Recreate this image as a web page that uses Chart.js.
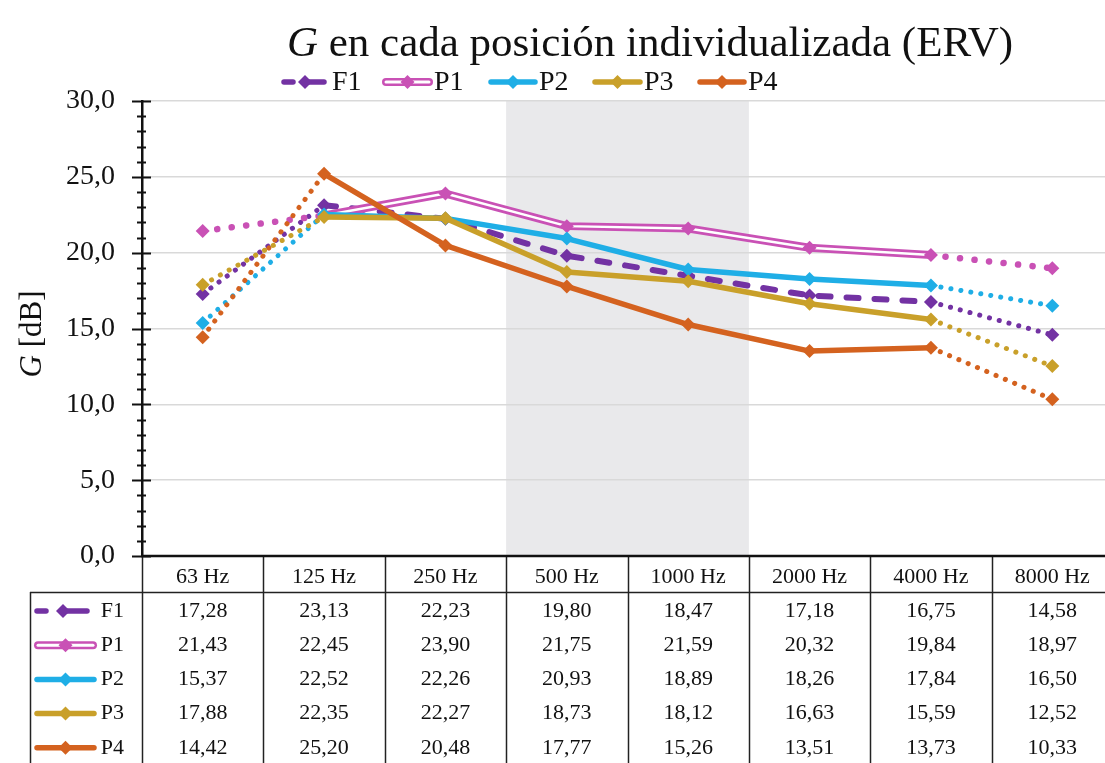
<!DOCTYPE html>
<html>
<head>
<meta charset="utf-8">
<script src="https://cdn.jsdelivr.net/npm/chart.js@4.4.1/dist/chart.umd.min.js"></script>
<style>
  html, body { margin: 0; padding: 0; background: #fff; overflow: hidden; }
  #wrap { width: 1105px; height: 763px; overflow: hidden; }
  canvas { display: block; }
</style>
</head>
<body>
<div id="wrap"><canvas id="grafico" width="1120" height="763"></canvas></div>
<script>
const categorias = ['63 Hz', '125 Hz', '250 Hz', '500 Hz', '1000 Hz', '2000 Hz', '4000 Hz', '8000 Hz'];
const F1 = [17.28, 23.13, 22.23, 19.80, 18.47, 17.18, 16.75, 14.58];
const P1 = [21.43, 22.45, 23.90, 21.75, 21.59, 20.32, 19.84, 18.97];
const P2 = [15.37, 22.52, 22.26, 20.93, 18.89, 18.26, 17.84, 16.50];
const P3 = [17.88, 22.35, 22.27, 18.73, 18.12, 16.63, 15.59, 12.52];
const P4 = [14.42, 25.20, 20.48, 17.77, 15.26, 13.51, 13.73, 10.33];
const nombres = ['F1', 'P1', 'P2', 'P3', 'P4'];
const bandaSombreada = ['500 Hz', '1000 Hz'];
const yMin = 0, yMax = 30, yPaso = 5;

const colores = {
  F1: '#7332a3',
  P1: '#c951b5',
  P2: '#1faee6',
  P3: '#c9a02a',
  P4: '#d4621f'
};
const SERIF = '"Liberation Serif", "Times New Roman", serif';

const ultimo = categorias.length - 1;
const esExtremo = ctx => ctx.p0DataIndex === 0 || ctx.p1DataIndex === ultimo;
const fmt = v => v.toFixed(2).replace('.', ',');

function serie(nombre, data, orden, extra) {
  const c = colores[nombre];
  return Object.assign({
    label: nombre,
    data: data,
    borderColor: c,
    backgroundColor: c,
    borderWidth: 5.5,
    borderCapStyle: 'round',
    borderJoinStyle: 'round',
    pointStyle: 'rectRot',
    pointRadius: 7,
    pointHoverRadius: 7,
    pointBackgroundColor: c,
    pointBorderWidth: 0,
    tension: 0,
    order: orden,
    segment: {
      borderDash: ctx => esExtremo(ctx) ? [0.1, 10] : [],
      borderWidth: ctx => esExtremo(ctx) ? 5 : 5.5
    }
  }, extra || {});
}

// iconos de la leyenda (linea + rombo)
function rombo(ctx, x, y, r, color) {
  ctx.fillStyle = color;
  ctx.beginPath();
  ctx.moveTo(x, y - r); ctx.lineTo(x + r, y); ctx.lineTo(x, y + r); ctx.lineTo(x - r, y);
  ctx.closePath();
  ctx.fill();
}
function icono(ctx, nombre, x0, x1, y) {
  const c = colores[nombre];
  const xm = (x0 + x1) / 2;
  ctx.save();
  ctx.lineCap = 'round';
  if (nombre === 'F1') {
    ctx.strokeStyle = c; ctx.lineWidth = 5.5;
    ctx.beginPath(); ctx.moveTo(x0 + 3, y); ctx.lineTo(x0 + 12, y); ctx.stroke();
    ctx.beginPath(); ctx.moveTo(xm + 2, y); ctx.lineTo(x1 - 3, y); ctx.stroke();
    rombo(ctx, xm + 1, y, 7, c);
  } else if (nombre === 'P1') {
    ctx.strokeStyle = c; ctx.lineWidth = 8;
    ctx.beginPath(); ctx.moveTo(x0 + 4, y); ctx.lineTo(x1 - 4, y); ctx.stroke();
    ctx.strokeStyle = '#fff'; ctx.lineWidth = 3;
    ctx.beginPath(); ctx.moveTo(x0 + 4, y); ctx.lineTo(x1 - 4, y); ctx.stroke();
    rombo(ctx, xm, y, 7, c);
  } else {
    ctx.strokeStyle = c; ctx.lineWidth = 5.5;
    ctx.beginPath(); ctx.moveTo(x0 + 3, y); ctx.lineTo(x1 - 3, y); ctx.stroke();
    rombo(ctx, xm, y, 7, c);
  }
  ctx.restore();
}

const decorado = {
  id: 'decorado',
  beforeDraw(chart) {
    const { ctx, chartArea: a, scales: { x } } = chart;
    const w = x.width / categorias.length;
    const i0 = categorias.indexOf(bandaSombreada[0]);
    const i1 = categorias.indexOf(bandaSombreada[bandaSombreada.length - 1]);
    const xa = x.getPixelForValue(i0) - w / 2;
    const xb = x.getPixelForValue(i1) + w / 2;
    ctx.save();
    ctx.fillStyle = '#e9e9eb';
    ctx.fillRect(xa, a.top, xb - xa, a.bottom - a.top);
    ctx.restore();
  },
  afterDraw(chart) {
    const { ctx, chartArea: a, scales: { x, y } } = chart;
    const w = x.width / categorias.length;
    ctx.save();

    // titulo
    ctx.fillStyle = '#111';
    ctx.textBaseline = 'alphabetic';
    ctx.font = 'italic 43px ' + SERIF;
    const tG = 'G';
    const resto = ' en cada posición individualizada (ERV)';
    const wG = ctx.measureText(tG).width;
    ctx.font = '43px ' + SERIF;
    const wR = ctx.measureText(resto).width;
    let tx = 650 - (wG + wR) / 2;
    ctx.font = 'italic 43px ' + SERIF;
    ctx.textAlign = 'left';
    ctx.fillText(tG, tx, 56);
    ctx.font = '43px ' + SERIF;
    ctx.fillText(resto, tx + wG, 56);

    // leyenda superior
    const posLeyenda = [[281, 327], [382, 433], [488, 538], [592, 643], [697, 747]];
    ctx.font = '28px ' + SERIF;
    ctx.textBaseline = 'middle';
    nombres.forEach((n, i) => {
      const [l0, l1] = posLeyenda[i];
      icono(ctx, n, l0, l1, 82);
      ctx.fillStyle = '#111';
      ctx.textAlign = 'left';
      ctx.fillText(n, l1 + (n === 'F1' ? 5 : 1), 83);
    });

    // eje Y: marcas mayores y menores
    ctx.strokeStyle = '#111';
    ctx.lineWidth = 2;
    for (let v = yMin; v <= yMax; v += 1) {
      const py = Math.round(y.getPixelForValue(v)) + 0.5;
      const mayor = v % yPaso === 0;
      ctx.beginPath();
      ctx.moveTo(a.left - (mayor ? 10 : 5), py);
      ctx.lineTo(a.left + (mayor ? 9 : 4), py);
      ctx.stroke();
    }

    // titulo del eje Y
    ctx.save();
    ctx.translate(33, 334);
    ctx.rotate(-Math.PI / 2);
    ctx.textBaseline = 'middle';
    ctx.font = 'italic 31px ' + SERIF;
    const wg = ctx.measureText('G').width;
    ctx.font = '31px ' + SERIF;
    const wdb = ctx.measureText(' [dB]').width;
    ctx.textAlign = 'left';
    ctx.font = 'italic 31px ' + SERIF;
    ctx.fillText('G', -(wg + wdb) / 2, 0);
    ctx.font = '31px ' + SERIF;
    ctx.fillText(' [dB]', -(wg + wdb) / 2 + wg, 0);
    ctx.restore();

    // tabla de datos
    const yEje = a.bottom;
    const yCab = 592;
    const yFin = chart.height;
    const xIzq = 30;
    ctx.strokeStyle = '#222';
    ctx.lineWidth = 1.5;
    for (let i = 0; i <= categorias.length; i++) {
      const px = Math.round(x.getPixelForValue(0) - w / 2 + i * w) + 0.5;
      ctx.beginPath(); ctx.moveTo(px, yEje); ctx.lineTo(px, yFin); ctx.stroke();
    }
    ctx.beginPath(); ctx.moveTo(xIzq + 0.5, yCab); ctx.lineTo(xIzq + 0.5, yFin); ctx.stroke();
    ctx.beginPath(); ctx.moveTo(xIzq, yCab + 0.5); ctx.lineTo(a.right, yCab + 0.5); ctx.stroke();

    ctx.fillStyle = '#111';
    ctx.font = '22px ' + SERIF;
    ctx.textAlign = 'center';
    ctx.textBaseline = 'middle';
    categorias.forEach((c, i) => ctx.fillText(c, x.getPixelForValue(i), 577));

    const filas = { F1, P1, P2, P3, P4 };
    nombres.forEach((n, r) => {
      const fy = 611 + r * 34.2;
      filas[n].forEach((v, i) => {
        ctx.fillStyle = '#111';
        ctx.textAlign = 'center';
        ctx.fillText(fmt(v), x.getPixelForValue(i), fy);
      });
      icono(ctx, n, 34, n === 'F1' ? 90 : 97, fy);
      ctx.fillStyle = '#111';
      ctx.textAlign = 'right';
      ctx.fillText(n, 124, fy);
    });

    // eje X
    ctx.strokeStyle = '#111';
    ctx.lineWidth = 2.5;
    ctx.beginPath(); ctx.moveTo(a.left - 1, yEje); ctx.lineTo(a.right, yEje); ctx.stroke();
    ctx.restore();
  }
};

new Chart(document.getElementById('grafico').getContext('2d'), {
  type: 'line',
  data: {
    labels: categorias,
    datasets: [
      serie('F1', F1, 6, {
        segment: {
          borderDash: ctx => esExtremo(ctx) ? [0.1, 10] : [12, 16],
          borderWidth: ctx => esExtremo(ctx) ? 5 : 6
        }
      }),
      // P1: doble linea (exterior rosa + interior blanco)
      serie('P1', P1, 5, {
        borderWidth: 8,
        pointRadius: 0,
        pointHoverRadius: 0,
        segment: {
          borderDash: ctx => esExtremo(ctx) ? [0.1, 14.5] : [],
          borderWidth: ctx => esExtremo(ctx) ? 6.5 : 8
        }
      }),
      serie('P1', P1, 4, {
        borderColor: '#ffffff',
        borderWidth: 2.5,
        segment: {
          borderColor: ctx => esExtremo(ctx) ? 'rgba(0,0,0,0)' : '#ffffff',
          borderDash: () => [],
          borderWidth: () => 2.5
        }
      }),
      serie('P2', P2, 3),
      serie('P3', P3, 2),
      serie('P4', P4, 1)
    ]
  },
  options: {
    responsive: false,
    animation: false,
    events: [],
    layout: { padding: { left: 0, right: 0, top: 101, bottom: 763 - 556 } },
    plugins: {
      legend: { display: false },
      title: { display: false },
      tooltip: { enabled: false }
    },
    scales: {
      x: {
        type: 'category',
        offset: true,
        grid: { display: false, offset: true },
        border: { display: false },
        ticks: { display: false },
        afterFit: s => { s.height = 0; }
      },
      y: {
        min: yMin,
        max: yMax,
        ticks: {
          stepSize: yPaso,
          padding: 27,
          color: '#111',
          font: { family: SERIF, size: 28 },
          callback: v => v.toFixed(1).replace('.', ',')
        },
        grid: { color: '#d9d9d9', lineWidth: 1.5, drawTicks: false },
        border: { display: true, color: '#111', width: 2.5 },
        afterFit: s => { s.width = 142; }
      }
    }
  },
  plugins: [decorado]
});
</script>
</body>
</html>
